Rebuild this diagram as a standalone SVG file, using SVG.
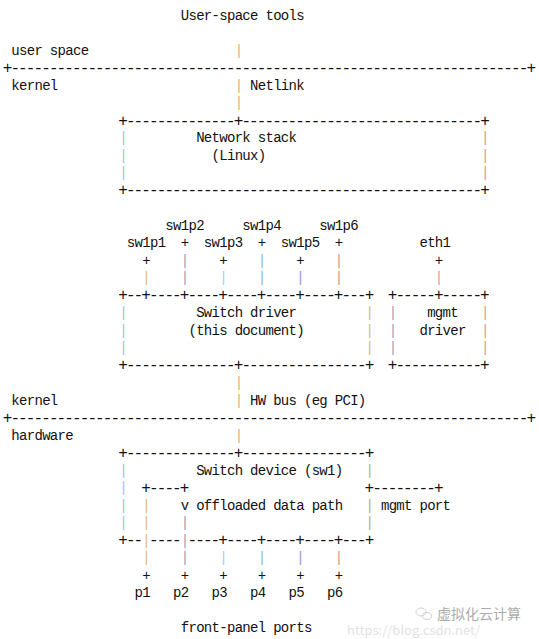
<svg xmlns="http://www.w3.org/2000/svg" width="539" height="639" viewBox="0 0 539 639" xml:space="preserve">
<style>
text { font-family: "Liberation Mono", "DejaVu Sans Mono", monospace; font-size: 14px; letter-spacing: -0.7px; fill: #111; }
text.h { font-size: 16px; letter-spacing: -1.9px; }
.c30 { fill: #d9b27c; }
.c15 { fill: #98c0ee; }
.c62 { fill: #cf9a9a; }
.c18 { fill: #e6b47c; }
.c23 { fill: #a29cb4; }
.c28 { fill: #9ccfe6; }
.c33 { fill: #92b4e6; }
.c38 { fill: #9c96ba; }
.c43 { fill: #d49494; }
.c56 { fill: #d39a9a; }
.c47 { fill: #c9bd86; }
.c47b { fill: #b0aa98; }
.c50 { fill: #a39ac4; }
text.wm { font-family: "Noto Sans CJK SC", "Liberation Sans", sans-serif; letter-spacing: 0; }
</style>
<rect width="539" height="639" fill="#ffffff"/>

<g id="user-space-tools">
<text x="180.75" y="20">User-space tools</text>
</g>

<g id="user-kernel-boundary">
<text x="11.35" y="54.98">user space</text>
<text class="h" x="2.7" y="73">+-------------------------------------------------------------------+</text>
<text x="11.35" y="89.96">kernel</text>
</g>

<g id="network-stack">
<text class="h" x="118.2" y="125.5">+--------------+-------------------------------+</text>
<text x="119.15" y="142.43" class="c15">|</text><text x="481.05" y="142.43" class="c62">|</text>
<text x="119.15" y="159.92" class="c15">|</text><text x="481.05" y="159.92" class="c62">|</text>
<text x="119.15" y="177.41" class="c15">|</text><text x="481.05" y="177.41" class="c62">|</text>
<text x="196.15" y="142.43">Network stack</text>
<text x="211.55" y="159.92">(Linux)</text>
<text class="h" x="118.2" y="195.45">+----------------------------------------------+</text>
</g>

<g id="netdev-ports">
<text x="165.35" y="229.88">sw1p2</text>
<text x="242.35" y="229.88">sw1p4</text>
<text x="319.35" y="229.88">sw1p6</text>
<text x="126.85" y="247.37">sw1p1</text>
<text x="203.85" y="247.37">sw1p3</text>
<text x="280.85" y="247.37">sw1p5</text>
<text x="419.45" y="247.37">eth1</text>
</g>

<g id="switch-driver">
<text class="h" x="118.2" y="300.4">+--+----+----+----+----+----+---+</text>
<text x="119.15" y="317.33" class="c15">|</text><text x="365.55" y="317.33" class="c47">|</text>
<text x="119.15" y="334.82" class="c15">|</text><text x="365.55" y="334.82" class="c47">|</text>
<text x="119.15" y="352.31" class="c15">|</text><text x="365.55" y="352.31" class="c47">|</text>
<text x="196.15" y="317.33">Switch driver</text>
<text x="188.45" y="334.82">(this document)</text>
<text class="h" x="118.2" y="370.35">+--------------+----------------+</text>
</g>

<g id="mgmt-driver">
<text class="h" x="387.7" y="300.4">+-----+-----+</text>
<text x="388.65" y="317.33" class="c50">|</text><text x="481.05" y="317.33" class="c62">|</text>
<text x="388.65" y="334.82" class="c50">|</text><text x="481.05" y="334.82" class="c62">|</text>
<text x="388.65" y="352.31" class="c50">|</text><text x="481.05" y="352.31" class="c62">|</text>
<text x="427.15" y="317.33">mgmt</text>
<text x="419.45" y="334.82">driver</text>
<text class="h" x="387.7" y="370.35">+-----------+</text>
</g>

<g id="kernel-hw-boundary">
<text x="11.35" y="404.78">kernel</text>
<text class="h" x="2.7" y="422.8">+-------------------------------------------------------------------+</text>
<text x="11.35" y="439.76">hardware</text>
</g>

<g id="switch-device">
<text class="h" x="118.2" y="457.8">+--------------+----------------+</text>
<text x="119.15" y="474.74" class="c15">|</text><text x="365.55" y="474.74" class="c47b">|</text>
<text x="196.15" y="474.74">Switch device (sw1)</text>
<text x="119.15" y="492.23" class="c15">|</text>
<text class="h" x="141.3" y="492.8">+----+</text>
<text class="h" x="364.6" y="492.8">+--------+</text>
<text x="119.15" y="509.72" class="c15">|</text><text x="365.55" y="509.72" class="c47b">|</text>
<text x="180.75" y="509.72">v</text>
<text x="196.15" y="509.72">offloaded data path</text>
<text x="380.95" y="509.72">mgmt port</text>
<text x="119.15" y="527.21" class="c15">|</text><text x="365.55" y="527.21" class="c47b">|</text>
<text class="h" x="118.2" y="545.25">+--</text>
<text class="h" x="149" y="545.25">----</text>
<text class="h" x="187.5" y="545.25">----+----+----+----+---+</text>
</g>

<g id="connectors">
<text x="234.65" y="54.98" class="c30">|</text>
<text x="234.65" y="89.96" class="c30">|</text>
<text x="250.05" y="89.96">Netlink</text>
<text x="234.65" y="107.45" class="c30">|</text>

<text x="180.75" y="247.37">+</text>
<text x="257.75" y="247.37">+</text>
<text x="334.75" y="247.37">+</text>
<text x="142.25" y="264.86">+</text>
<text x="180.75" y="264.86" class="c23">|</text>
<text x="219.25" y="264.86">+</text>
<text x="257.75" y="264.86" class="c33">|</text>
<text x="296.25" y="264.86">+</text>
<text x="334.75" y="264.86" class="c43">|</text>
<text x="434.85" y="264.86">+</text>
<text x="142.25" y="282.35" class="c18">|</text>
<text x="180.75" y="282.35" class="c23">|</text>
<text x="219.25" y="282.35" class="c28">|</text>
<text x="257.75" y="282.35" class="c33">|</text>
<text x="296.25" y="282.35" class="c38">|</text>
<text x="334.75" y="282.35" class="c43">|</text>
<text x="434.85" y="282.35" class="c56">|</text>

<text x="234.65" y="387.29" class="c30">|</text>
<text x="234.65" y="404.78" class="c30">|</text>
<text x="250.05" y="404.78">HW bus (eg PCI)</text>
<text x="234.65" y="439.76" class="c30">|</text>

<text x="142.25" y="509.72" class="c18">|</text>
<text x="142.25" y="527.21" class="c18">|</text>
<text x="180.75" y="527.21" class="c23">|</text>
<text x="142.25" y="544.7" class="c18">|</text>
<text x="180.75" y="544.7" class="c23">|</text>
<text x="142.25" y="562.19" class="c18">|</text>
<text x="180.75" y="562.19" class="c23">|</text>
<text x="219.25" y="562.19" class="c28">|</text>
<text x="257.75" y="562.19" class="c33">|</text>
<text x="296.25" y="562.19" class="c38">|</text>
<text x="334.75" y="562.19" class="c43">|</text>
<text x="142.25" y="579.68">+</text>
<text x="180.75" y="579.68">+</text>
<text x="219.25" y="579.68">+</text>
<text x="257.75" y="579.68">+</text>
<text x="296.25" y="579.68">+</text>
<text x="334.75" y="579.68">+</text>
</g>

<g id="front-panel-ports">
<text x="134.55" y="597.17">p1</text>
<text x="173.05" y="597.17">p2</text>
<text x="211.55" y="597.17">p3</text>
<text x="250.05" y="597.17">p4</text>
<text x="288.55" y="597.17">p5</text>
<text x="327.05" y="597.17">p6</text>
<text x="180.75" y="632.15">front-panel ports</text>
</g>

<g id="watermark" opacity="0.55">
<ellipse cx="421" cy="612" rx="5" ry="4" fill="none" stroke="#999" stroke-width="0.8"/>
<ellipse cx="427" cy="616" rx="4.5" ry="3.5" fill="none" stroke="#999" stroke-width="0.8"/>
<text x="437" y="619" class="wm" style="font-size:14px; fill:#666">虚拟化云计算</text>
<text x="347" y="635" class="wm" style="font-size:13px; fill:#ccc">https://blog.csdn.net/</text>
</g>
</svg>
